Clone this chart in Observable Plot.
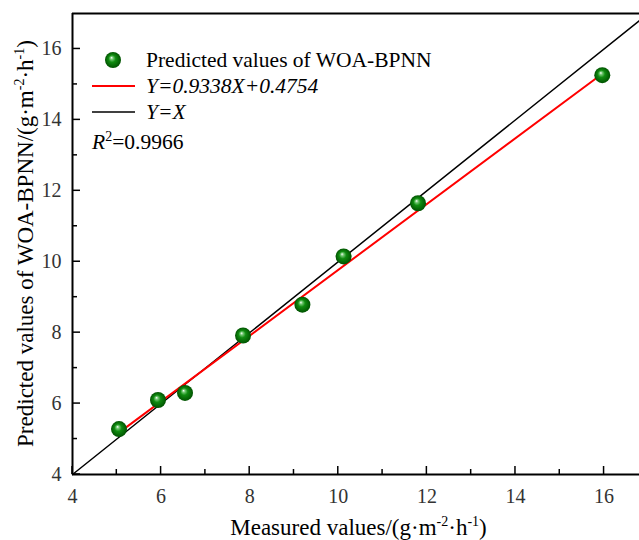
<!DOCTYPE html>
<html><head><meta charset="utf-8">
<script src="https://cdn.jsdelivr.net/npm/d3@7"></script>
<script src="https://cdn.jsdelivr.net/npm/@observablehq/plot@0.6"></script>
<style>body{margin:0;background:#fff} svg{display:block}</style>
</head><body><div id="chart"></div>
<script>
const measured  = [5.05, 5.93, 6.54, 7.85, 9.19, 10.12, 11.80, 15.96];
const predicted = [5.28, 6.10, 6.30, 7.92, 8.79, 10.15, 11.65, 15.26];
const fitX = [5.05, 15.96];
const fitY = [5.18, 15.30];
const identityXY = [4, 16.8];
const xMajor = [4, 6, 8, 10, 12, 14, 16];
const xMinor = [5, 7, 9, 11, 13, 15];
const yMajor = [4, 6, 8, 10, 12, 14, 16];
const yMinor = [5, 7, 9, 11, 13, 15];
const legendLabels = ["Predicted values of WOA-BPNN", "Y=0.9338X+0.4754", "Y=X"];
const r2Value = "=0.9966";

const points = measured.map((x, i) => ({x, y: predicted[i]}));
const fitLine = fitX.map((x, i) => ({x, y: fitY[i]}));
const idLine = identityXY.map(v => ({x: v, y: v}));

const font = "'Liberation Serif', 'Times New Roman', serif";
const plot = Plot.plot({
  width: 639, height: 540,
  marginLeft: 72, marginRight: 0, marginTop: 13, marginBottom: 66,
  style: {fontFamily: font, background: "#fff", overflow: "visible"},
  x: {domain: [4, 16.8]},
  y: {domain: [4, 17]},
  marks: [
    Plot.axisX({ticks: xMajor, tickSize: 0, tickPadding: 14, fontSize: 20, fontFamily: font, fill: "#333", label: null, tickFormat: d => String(d)}),
    Plot.axisY({ticks: yMajor, tickSize: 0, tickPadding: 11, fontSize: 20, fontFamily: font, fill: "#333", label: null, tickFormat: d => String(d)}),
    Plot.line(idLine, {x: "x", y: "y", stroke: "black", strokeWidth: 1.5}),
    Plot.line(fitLine, {x: "x", y: "y", stroke: "#ff0000", strokeWidth: 2}),
    Plot.dot(points, {x: "x", y: "y", r: 8, fill: "url(#sphere)", stroke: "none"}),
    Plot.ruleX([4], {stroke: "black", strokeWidth: 2}),
    Plot.ruleY([4, 17], {stroke: "black", strokeWidth: 2})
  ]
});
document.getElementById("chart").appendChild(plot);

const svg = d3.select(plot);
const sx = plot.scale("x"), sy = plot.scale("y");
const X = v => sx.apply(v), Y = v => sy.apply(v);

const defs = svg.insert("defs", ":first-child");
const g = defs.append("radialGradient").attr("id", "sphere")
  .attr("cx", "50%").attr("cy", "50%").attr("r", "50%").attr("fx", "40%").attr("fy", "35%");
[["0%", "#ffffff"], ["18%", "#74c874"], ["45%", "#108c10"], ["100%", "#005200"]]
  .forEach(([o, c]) => g.append("stop").attr("offset", o).attr("stop-color", c));

// inward ticks
const tk = svg.append("g").attr("stroke", "black").attr("stroke-width", 1.5);
const bottom = Y(4), left = X(4);
xMajor.forEach(v => tk.append("line").attr("x1", X(v)).attr("x2", X(v)).attr("y1", bottom).attr("y2", bottom - 8));
xMinor.forEach(v => tk.append("line").attr("x1", X(v)).attr("x2", X(v)).attr("y1", bottom).attr("y2", bottom - 5));
yMajor.forEach(v => tk.append("line").attr("y1", Y(v)).attr("y2", Y(v)).attr("x1", left).attr("x2", left + 8));
yMinor.forEach(v => tk.append("line").attr("y1", Y(v)).attr("y2", Y(v)).attr("x1", left).attr("x2", left + 5));

function sup(sel, t, size, raise) {
  sel.append("tspan").attr("dy", -raise).attr("font-size", size).text(t);
}
function unitLabel(sel, prefix) {
  sel.append("tspan").text(prefix + "(g·m");
  sup(sel, "-2", 14, 9);
  sel.append("tspan").attr("dy", 9).text("·h");
  sup(sel, "-1", 14, 9);
  sel.append("tspan").attr("dy", 9).text(")");
}
const cx = (X(4) + 639) / 2, cy = (Y(4) + Y(17)) / 2;
const xl = svg.append("text").attr("x", cx + 3).attr("y", 535).attr("text-anchor", "middle")
  .attr("font-size", 23).attr("fill", "black");
unitLabel(xl, "Measured values/");
const yl = svg.append("text").attr("transform", `translate(33,${cy}) rotate(-90)`).attr("text-anchor", "middle")
  .attr("font-size", 23).attr("fill", "black");
unitLabel(yl, "Predicted values of WOA-BPNN/");

// legend
const lg = svg.append("g").attr("font-size", 21.5).attr("fill", "black").attr("text-anchor", "start");
lg.append("circle").attr("cx", 113).attr("cy", 60).attr("r", 8).attr("fill", "url(#sphere)");
lg.append("text").attr("x", 146).attr("y", 67).text(legendLabels[0]);
lg.append("line").attr("x1", 92).attr("x2", 135).attr("y1", 86).attr("y2", 86).attr("stroke", "#ff0000").attr("stroke-width", 2);
lg.append("text").attr("x", 146).attr("y", 93).attr("font-style", "italic").text(legendLabels[1]);
lg.append("line").attr("x1", 92).attr("x2", 135).attr("y1", 112).attr("y2", 112).attr("stroke", "black").attr("stroke-width", 1.5);
lg.append("text").attr("x", 146).attr("y", 119).attr("font-style", "italic").text(legendLabels[2]);
const r2 = lg.append("text").attr("x", 92).attr("y", 149);
r2.append("tspan").attr("font-style", "italic").text("R");
sup(r2, "2", 14, 8);
r2.append("tspan").attr("dy", 8).text(r2Value);

svg.selectAll("text").style("font-family", font);
</script></body></html>
